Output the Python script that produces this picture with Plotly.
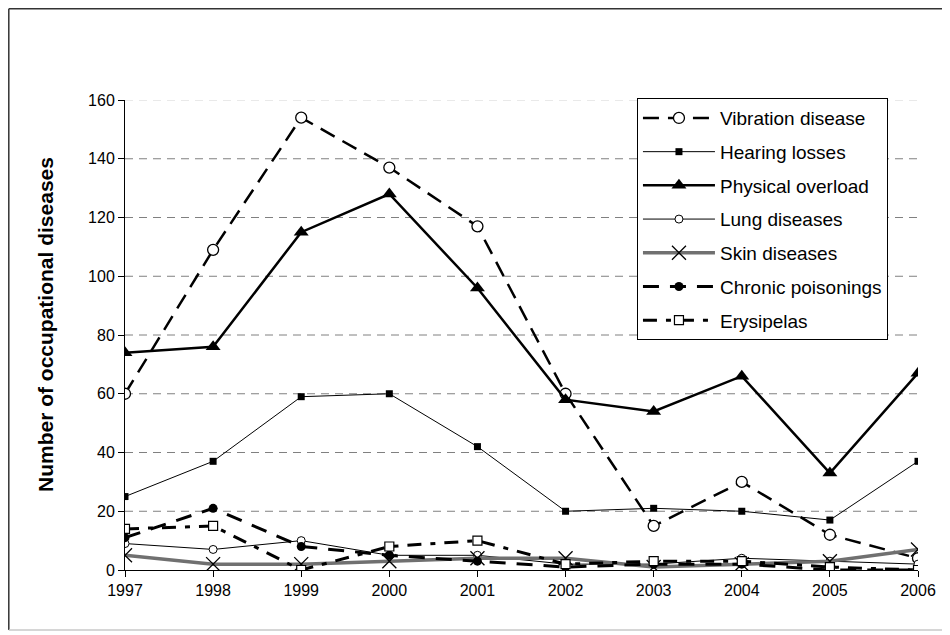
import plotly.graph_objects as go

years = [1997, 1998, 1999, 2000, 2001, 2002, 2003, 2004, 2005, 2006]
vibration = [60, 109, 154, 137, 117, 60, 15, 30, 12, 4]
hearing = [25, 37, 59, 60, 42, 20, 21, 20, 17, 37]
physical = [74, 76, 115, 128, 96, 58, 54, 66, 33, 67]
lung = [9, 7, 10, 5, 5, 2, 2, 4, 3, 2]
skin = [5, 2, 2, 3, 4, 4, 1, 2, 3, 7]
chronic = [11, 21, 8, 5, 3, 1, 2, 2, 0, 0]
erysipelas = [14, 15, 0, 8, 10, 2, 3, 3, 1, 0]
y_ticks = [0, 20, 40, 60, 80, 100, 120, 140, 160]
y_title = "Number of occupational diseases"

FONT = "Arial, Liberation Sans, sans-serif"

fig = go.Figure()

# horizontal dashed gridlines (top one lighter, as in the reference)
for v in y_ticks[1:]:
    fig.add_shape(type="line", xref="x", yref="y", x0=years[0], x1=years[-1], y0=v, y1=v,
                  line=dict(color="#d4d4d4" if v == y_ticks[-1] else "#808080", width=1, dash="8px,6px"),
                  layer="below")


def add(name, y, width, dash, color, symbol, msize, mfill, mline, mlinecolor="black"):
    fig.add_trace(go.Scatter(
        x=years, y=y, name=name, mode="lines+markers", legendgroup=name,
        line=dict(color=color, width=width, dash=dash),
        marker=dict(symbol=symbol, size=msize, color=mfill,
                    line=dict(color=mlinecolor, width=mline)),
    ))


add("Vibration disease", vibration, 2.5, "16px,9px", "black", "circle", 11, "white", 1.3)
add("Hearing losses", hearing, 1, "solid", "black", "square", 7, "black", 0)
add("Physical overload", physical, 2.5, "solid", "black", "triangle-up", 13, "black", 0)
add("Lung diseases", lung, 1, "solid", "black", "circle", 8, "white", 1)
add("Skin diseases", skin, 3.5, "solid", "#707070", "x-thin-open", 14, "black", 1.3)
add("Chronic poisonings", chronic, 3, "16px,11px", "black", "circle", 9, "black", 0)
add("Erysipelas", erysipelas, 3, "14px,9px,5px,9px", "black", "square", 9, "white", 1.2)

# the page body adds an 8px offset; margins are set so the plot lands where the reference has it
PL, PR, PT, PB = 117, 910, 92, 562
fig.update_layout(
    width=950, height=635,
    margin=dict(l=PL, r=950 - PR, t=PT, b=635 - PB),
    paper_bgcolor="white", plot_bgcolor="white",
    font=dict(family=FONT, size=16, color="black"),
    showlegend=True,
    legend=dict(
        x=0.6456, y=1.004, xanchor="left", yanchor="top",
        bgcolor="white", bordercolor="black", borderwidth=1,
        font=dict(family=FONT, size=19, color="black"),
        tracegroupgap=6, itemwidth=72,
    ),
)

fig.update_xaxes(
    range=[1997, 2006], tickvals=years, ticktext=[str(v) for v in years],
    showgrid=False, showline=True, linecolor="black", linewidth=1,
    ticks="outside", ticklen=6, tickcolor="black",
    tickfont=dict(family=FONT, size=16), zeroline=False,
)
fig.update_yaxes(
    range=[0, 160], tickvals=y_ticks,
    showgrid=False,
    showline=True, linecolor="black", linewidth=1,
    ticks="outside", ticklen=6, tickcolor="black",
    tickfont=dict(family=FONT, size=16), zeroline=False,
)


def px_x(p):
    return (p - PL) / float(PR - PL)


def px_y(p):
    return (PB - p) / float(PB - PT)


# y-axis title as rotated annotation
fig.add_annotation(text="<b>" + y_title + "</b>", textangle=-90, showarrow=False,
                   xref="paper", yref="paper", x=px_x(37), y=px_y(317),
                   xanchor="center", yanchor="middle",
                   font=dict(family=FONT, size=21, color="black"))

# outer frame
x0, x1, y0, y1 = px_x(0.8), px_x(937), px_y(622), px_y(0.8)
fig.add_shape(type="line", xref="paper", yref="paper", x0=x0, x1=x1, y0=y1, y1=y1,
              line=dict(color="#333333", width=1.5))
fig.add_shape(type="line", xref="paper", yref="paper", x0=x0, x1=x0, y0=y0, y1=y1,
              line=dict(color="#333333", width=1.5))
fig.add_shape(type="line", xref="paper", yref="paper", x0=x0, x1=x1, y0=y0, y1=y0,
              line=dict(color="#c8c8c8", width=1.5))
fig.add_shape(type="line", xref="paper", yref="paper", x0=x1, x1=x1, y0=y0, y1=y1,
              line=dict(color="#c8c8c8", width=1.5))

fig.write_html("out.html")
